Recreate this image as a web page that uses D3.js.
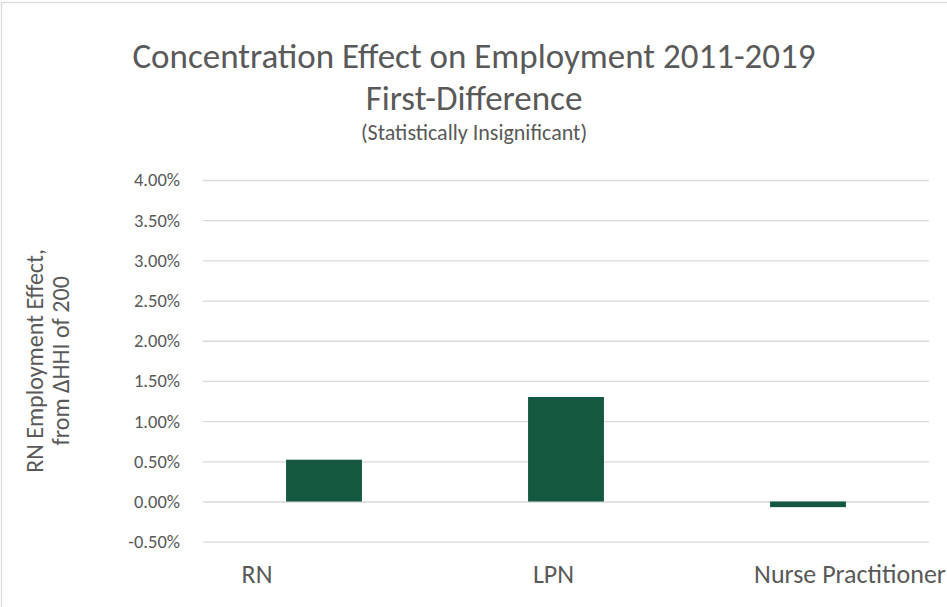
<!DOCTYPE html>
<html>
<head>
<meta charset="utf-8">
<script src="https://cdn.jsdelivr.net/npm/d3@7"></script>
<style>
  html, body { margin: 0; padding: 0; background: #fff; }
  svg { display: block; }
  text { font-family: Carlito, Calibri, Lato, "Open Sans", sans-serif; fill: #595959; }
</style>
</head>
<body>
<svg id="chart" width="947" height="607"></svg>
<script>
// Chart data
const categories = ["RN", "LPN", "Nurse Practitioner"];
const effects = [0.0052, 0.0130, -0.0007];
const yTicks = [-0.005, 0, 0.005, 0.01, 0.015, 0.02, 0.025, 0.03, 0.035, 0.04];
const titleLines = ["Concentration Effect on Employment 2011-2019", "First-Difference"];
const subtitle = "(Statistically Insignificant)";
const yTitleLines = ["RN Employment Effect,", "from \u0394HHI of 200"];

const W = 947, H = 607;
const plot = { left: 203, right: 929, top: 180, bottom: 541.7 };
const barColor = "#145840";
const gridColor = "#D9D9D9";
const fontStack = 'Carlito, Calibri, Lato, "Open Sans", sans-serif';

// percent format with a plain hyphen for negatives
const pctFormat = d3.formatLocale({
  decimal: ".", thousands: ",", grouping: [3], currency: ["$", ""], minus: "-"
}).format(".2%");

const svg = d3.select("#chart");

// Outer chart frame
svg.append("rect")
  .attr("x", 1.5).attr("y", 2.5)
  .attr("width", W + 10).attr("height", H + 10)
  .attr("fill", "#fff").attr("stroke", gridColor).attr("stroke-width", 1.3);

const y = d3.scaleLinear().domain([-0.005, 0.04]).range([plot.bottom, plot.top]);
const x = d3.scaleBand().domain(categories)
  .range([plot.left, plot.right])
  .paddingInner(0.6865).paddingOuter(0.6865 / 2);
// category label positions along the bottom
const xLabel = d3.scalePoint().domain(categories).range([257, 850]);

// Gridlines + tick labels
const yAxis = d3.axisLeft(y)
  .tickValues(yTicks)
  .tickSize(-(plot.right - plot.left))
  .tickPadding(23)
  .tickFormat(pctFormat);

const gy = svg.append("g")
  .attr("transform", `translate(${plot.left},0)`)
  .call(yAxis);
gy.select(".domain").remove();
gy.selectAll(".tick line").attr("stroke", gridColor).attr("stroke-width", 1.3);
gy.selectAll(".tick text")
  .attr("font-size", 18.5)
  .attr("fill", "#595959")
  .style("font-family", fontStack);

// Bars
svg.append("g").selectAll("rect")
  .data(categories.map((c, i) => ({ c, v: effects[i] })))
  .join("rect")
  .attr("x", d => x(d.c))
  .attr("width", x.bandwidth())
  .attr("y", d => y(Math.max(0, d.v)))
  .attr("height", d => Math.abs(y(d.v) - y(0)))
  .attr("fill", barColor);

// Category labels
svg.append("g").selectAll("text")
  .data(categories)
  .join("text")
  .attr("x", d => xLabel(d))
  .attr("y", 583)
  .attr("text-anchor", "middle")
  .attr("font-size", 26)
  .text(d => d);

// Title
svg.append("g").selectAll("text")
  .data(titleLines)
  .join("text")
  .attr("x", 474)
  .attr("y", (d, i) => 68 + i * 42)
  .attr("text-anchor", "middle")
  .attr("font-size", 35)
  .text(d => d);

svg.append("text")
  .attr("x", 474).attr("y", 140)
  .attr("text-anchor", "middle")
  .attr("font-size", 22)
  .text(subtitle);

// Y axis title
const yt = svg.append("text")
  .attr("transform", `translate(0,${(plot.top + plot.bottom) / 2}) rotate(-90)`)
  .attr("text-anchor", "middle")
  .attr("font-size", 24);
yt.selectAll("tspan")
  .data(yTitleLines)
  .join("tspan")
  .attr("x", 0)
  .attr("y", (d, i) => 43 + i * 26)
  .text(d => d);
</script>
</body>
</html>
